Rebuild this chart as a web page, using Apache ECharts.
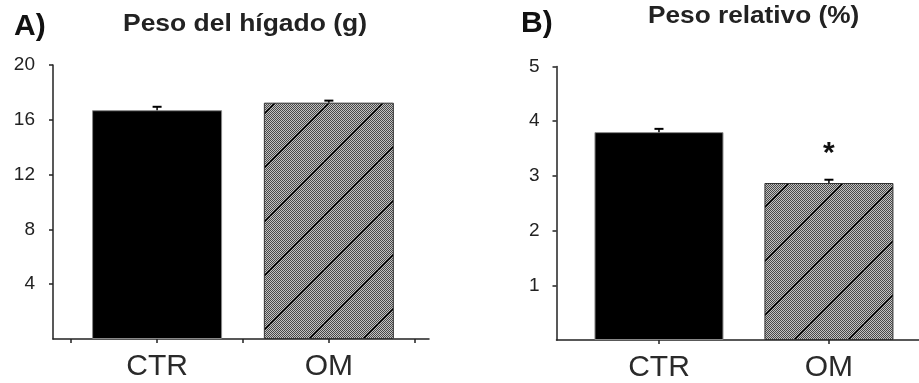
<!DOCTYPE html>
<html>
<head>
<meta charset="utf-8">
<script src="https://cdn.jsdelivr.net/npm/echarts@6/dist/echarts.min.js"></script>
<style>
html,body{margin:0;padding:0;background:#fff;}
#chart{width:919px;height:383px;}
</style>
</head>
<body>
<div id="chart"></div>
<script>
// ---- data ----
const categories = ['CTR', 'OM'];
const categoryPos = [0.5, 1.5];
const liverWeight = [16.7, 17.25];
const liverWeightErr = [0.25, 0.15];
const relWeight = [3.80, 2.87];
const relWeightErr = [0.06, 0.06];
const relWeightSig = ['', '*'];
const yTicksA = [4, 8, 12, 16, 20];
const yTicksB = [1, 2, 3, 4, 5];
const xTicksA = [0, 0.5, 1, 1.5, 2];
const xTicksB = [0.5, 1.5];
const panelLabels = ['A)', 'B)'];
const panelTitles = ['Peso del hígado (g)', 'Peso relativo (%)'];

const FONT = "'Liberation Sans', Arial, Helvetica, sans-serif";

// hatched checker pattern for OM bars
function makePattern() {
  const T = 54;
  const c = document.createElement('canvas');
  c.width = T; c.height = T;
  const ctx = c.getContext('2d');
  const img = ctx.createImageData(T, T);
  for (let j = 0; j < T; j++) {
    for (let i = 0; i < T; i++) {
      const k = (j * T + i) * 4;
      const v = ((i + j) % 2 === 0) ? 0x48 : 0xc2;
      img.data[k] = v; img.data[k + 1] = v; img.data[k + 2] = v; img.data[k + 3] = 255;
    }
  }
  ctx.putImageData(img, 0, 0);
  ctx.strokeStyle = '#000';
  ctx.lineWidth = 1.3;
  ctx.beginPath();
  ctx.moveTo(-2, T + 2); ctx.lineTo(T + 2, -2);
  ctx.stroke();
  return c;
}
const pattern = { image: makePattern(), repeat: 'repeat' };

const barColors = ['#000000', pattern];
const barBorders = ['#888888', '#333333'];

function barData(vals) {
  return vals.map((v, i) => ({
    value: [categoryPos[i], v],
    itemStyle: { color: barColors[i], borderColor: barBorders[i], borderWidth: 1 }
  }));
}
function errData(vals, errs, sig) {
  return vals.map((v, i) => [categoryPos[i], v, errs[i], sig ? sig[i] : '']);
}
function errRender(params, api) {
  const x = api.value(0), y = api.value(1), e = api.value(2);
  const s = api.value(3);
  const p0 = api.coord([x, y]);
  const p1 = api.coord([x, y + e]);
  const children = [
    { type: 'line', shape: { x1: p0[0], y1: p0[1], x2: p1[0], y2: p1[1] }, style: { stroke: '#000', lineWidth: 1.5 } },
    { type: 'line', shape: { x1: p1[0] - 4.5, y1: p1[1], x2: p1[0] + 4.5, y2: p1[1] }, style: { stroke: '#000', lineWidth: 2 } }
  ];
  if (s && s !== '-' ) {
    children.push({ type: 'text', x: p1[0], y: p1[1] - 26,
      style: { text: String(s), font: 'bold 30px ' + FONT, fill: '#111', align: 'center', verticalAlign: 'middle' } });
  }
  return { type: 'group', children };
}

const axisLineStyle = { color: '#222', width: 1.5 };

function xAxisCfg(gi, min, max, ticks) {
  return {
    type: 'value', gridIndex: gi, min: min, max: max,
    splitLine: { show: false },
    axisLine: { show: true, onZero: false, lineStyle: axisLineStyle },
    axisTick: { show: true, length: 4, customValues: ticks, lineStyle: axisLineStyle },
    axisLabel: {
      customValues: categoryPos,
      formatter: v => categories[categoryPos.indexOf(v)] || '',
      fontFamily: FONT, fontSize: 30, color: '#2a2a2a', margin: 13
    }
  };
}
function yAxisCfg(gi, max, interval, ticks, margin) {
  return {
    type: 'value', gridIndex: gi, min: 0, max: max, interval: interval,
    splitLine: { show: false },
    axisLine: { show: true, onZero: false, lineStyle: axisLineStyle },
    axisTick: { show: true, length: 4, customValues: ticks, lineStyle: axisLineStyle },
    axisLabel: { customValues: ticks, fontFamily: FONT, fontSize: 19, color: '#222', margin: margin }
  };
}

const option = {
  animation: false,
  backgroundColor: '#fff',
  grid: [
    { left: 53, top: 65, width: 376, height: 274 },
    { left: 556.5, top: 66.5, width: 362.5, height: 275.5 }
  ],
  xAxis: [
    xAxisCfg(0, -0.106, 2.083, xTicksA),
    xAxisCfg(1, -0.103, 2.03, xTicksB)
  ],
  yAxis: [
    yAxisCfg(0, 20, 4, yTicksA, 18),
    yAxisCfg(1, 5, 1, yTicksB, 17)
  ],
  graphic: [
    { type: 'text', left: 14, top: 12, style: { text: panelLabels[0], font: 'bold 30px ' + FONT, fill: '#111' } },
    { type: 'text', x: 123, y: 13, scaleX: 1.15, style: { text: panelTitles[0], font: 'bold 23px ' + FONT, fill: '#222', verticalAlign: 'top' } },
    { type: 'text', left: 521, top: 9, style: { text: panelLabels[1], font: 'bold 30px ' + FONT, fill: '#111' } },
    { type: 'text', x: 648, y: 5, scaleX: 1.14, style: { text: panelTitles[1], font: 'bold 23px ' + FONT, fill: '#222', verticalAlign: 'top' } }
  ],
  series: [
    { type: 'bar', xAxisIndex: 0, yAxisIndex: 0, barWidth: 130, data: barData(liverWeight) },
    { type: 'custom', xAxisIndex: 0, yAxisIndex: 0, renderItem: errRender, data: errData(liverWeight, liverWeightErr), z: 5 },
    { type: 'bar', xAxisIndex: 1, yAxisIndex: 1, barWidth: 129, data: barData(relWeight) },
    { type: 'custom', xAxisIndex: 1, yAxisIndex: 1, renderItem: errRender, data: errData(relWeight, relWeightErr, relWeightSig), z: 5 }
  ]
};

const chart = echarts.init(document.getElementById('chart'), null, { renderer: 'canvas' });
chart.setOption(option);
</script>
</body>
</html>
